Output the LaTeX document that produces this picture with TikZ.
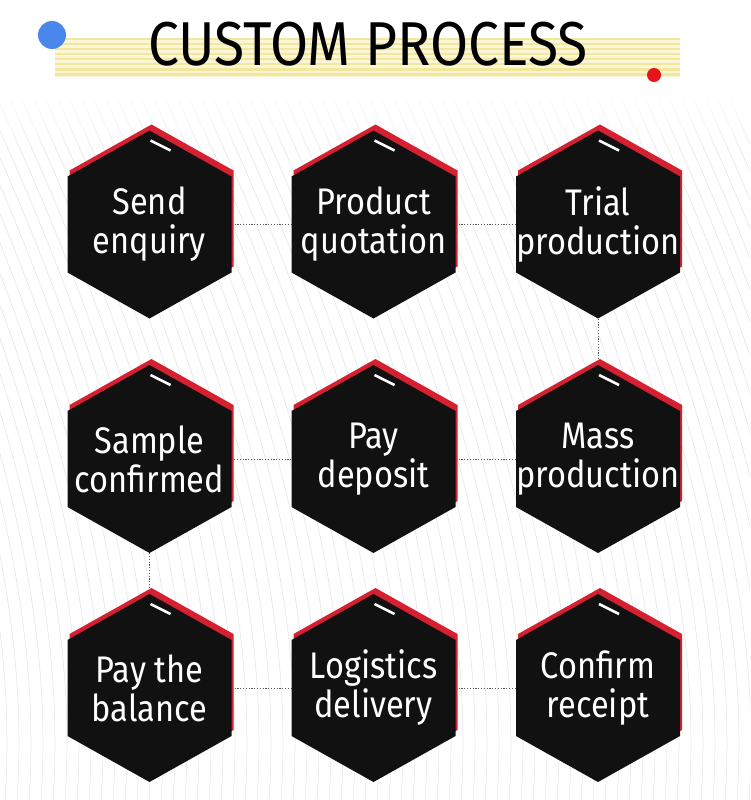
\documentclass[tikz,border=0pt]{standalone}
\usepackage{fontspec}
\usetikzlibrary{calc}
\newfontfamily\titlefont[FakeStretch=0.89]{Fira Sans}
\newfontfamily\hexfont[FakeStretch=0.88]{Fira Sans}
\definecolor{hexred}{HTML}{D42030}
\definecolor{hexblack}{HTML}{111111}
\definecolor{stripeA}{HTML}{F3E79C}
\definecolor{stripeB}{HTML}{FBF6D8}
\definecolor{dotblue}{HTML}{4A87EC}
\definecolor{dotred}{HTML}{E8141B}
\definecolor{bgline}{HTML}{E2E2E2}
\definecolor{connc}{HTML}{555555}
\pgfdeclarelayer{deco}
\pgfdeclarelayer{links}
\pgfsetlayers{deco,links,main}
\tikzset{
  hexlabel/.style={shape=rectangle, inner sep=0pt, minimum width=164pt,
    minimum height=188pt, align=center, text=white,
    font=\hexfont\fontsize{37}{39}\selectfont},
  link/.style={draw=connc, line width=0.8pt, dash pattern=on 1.2pt off 1.6pt},
  hexback/.style={fill=hexred},
  hexface/.style={fill=hexblack},
  hextick/.style={draw=white, line width=2.5pt},
  bgcurve/.style={draw=bgline, line width=0.5pt},
  titletext/.style={font=\titlefont\fontsize{62}{62}\selectfont, text=black, inner sep=0pt}
}
\newcommand\hexstep[4]{%
  \begin{scope}[shift={(#2,#3)}]
    \path[hexback] (2,-100) -- (84,-54) -- (84,42) -- (2,88) -- (-80,42) -- (-80,-54) -- cycle;
    \path[hexface] (0,-94) -- (82,-48) -- (82,48) -- (0,94) -- (-82,48) -- (-82,-48) -- cycle;
    \draw[hextick] (1,-84) -- (21,-74);
  \end{scope}
  \node[hexlabel] (#1) at (#2,#3) {#4};
}
\begin{document}
\begin{tikzpicture}[x=1pt,y=-1pt]
\useasboundingbox (0,0) rectangle (750,800);
% background curves
\begin{pgfonlayer}{deco}
  \fill[white] (0,0) rectangle (750,800);
  \begin{scope}
    \clip (0,100) rectangle (750,800);
    \foreach \i in {0,...,90} {
      \draw[bgcurve] ({-350+12*\i},100) .. controls ({-230+12*\i},360) and ({-160+12*\i},590) .. ({-175+12*\i},800);
    }
  \end{scope}
  \foreach \j in {1,...,10} {
    \fill[white, opacity=0.18] (0,95) rectangle (750,{95+5*\j});
  }
\end{pgfonlayer}
% title
\fill[stripeB] (55,38) rectangle (680,77);
\foreach \k in {0,...,7} {
  \fill[stripeA] (55,{38+5*\k}) rectangle (680,{40.5+5*\k});
}
\fill[dotblue] (52,35) circle (14);
\fill[dotred] (654,75) circle (7);
\node[titletext] (title) at (368,44) {CUSTOM PROCESS};
% steps
\hexstep{s1}{149.5}{224.5}{Send\\enquiry}
\hexstep{s2}{373.5}{224.5}{Product\\quotation}
\hexstep{s3}{598}{224.5}{Trial\\production}
\hexstep{s4}{149.5}{459}{Sample\\confirmed}
\hexstep{s5}{373.5}{459}{Pay\\deposit}
\hexstep{s6}{598}{459}{Mass\\production}
\hexstep{s7}{149.5}{688}{Pay the\\balance}
\hexstep{s8}{373.5}{688}{Logistics\\delivery}
\hexstep{s9}{598}{688}{Confirm\\receipt}
\begin{pgfonlayer}{links}
  \draw[link] (s1.east) -- (s2.west);
  \draw[link] (s2.east) -- (s3.west);
  \draw[link] (s3.south) -- (s6.north);
  \draw[link] (s6.west) -- (s5.east);
  \draw[link] (s5.west) -- (s4.east);
  \draw[link] (s4.south) -- (s7.north);
  \draw[link] (s7.east) -- (s8.west);
  \draw[link] (s8.east) -- (s9.west);
\end{pgfonlayer}
\end{tikzpicture}
\end{document}
